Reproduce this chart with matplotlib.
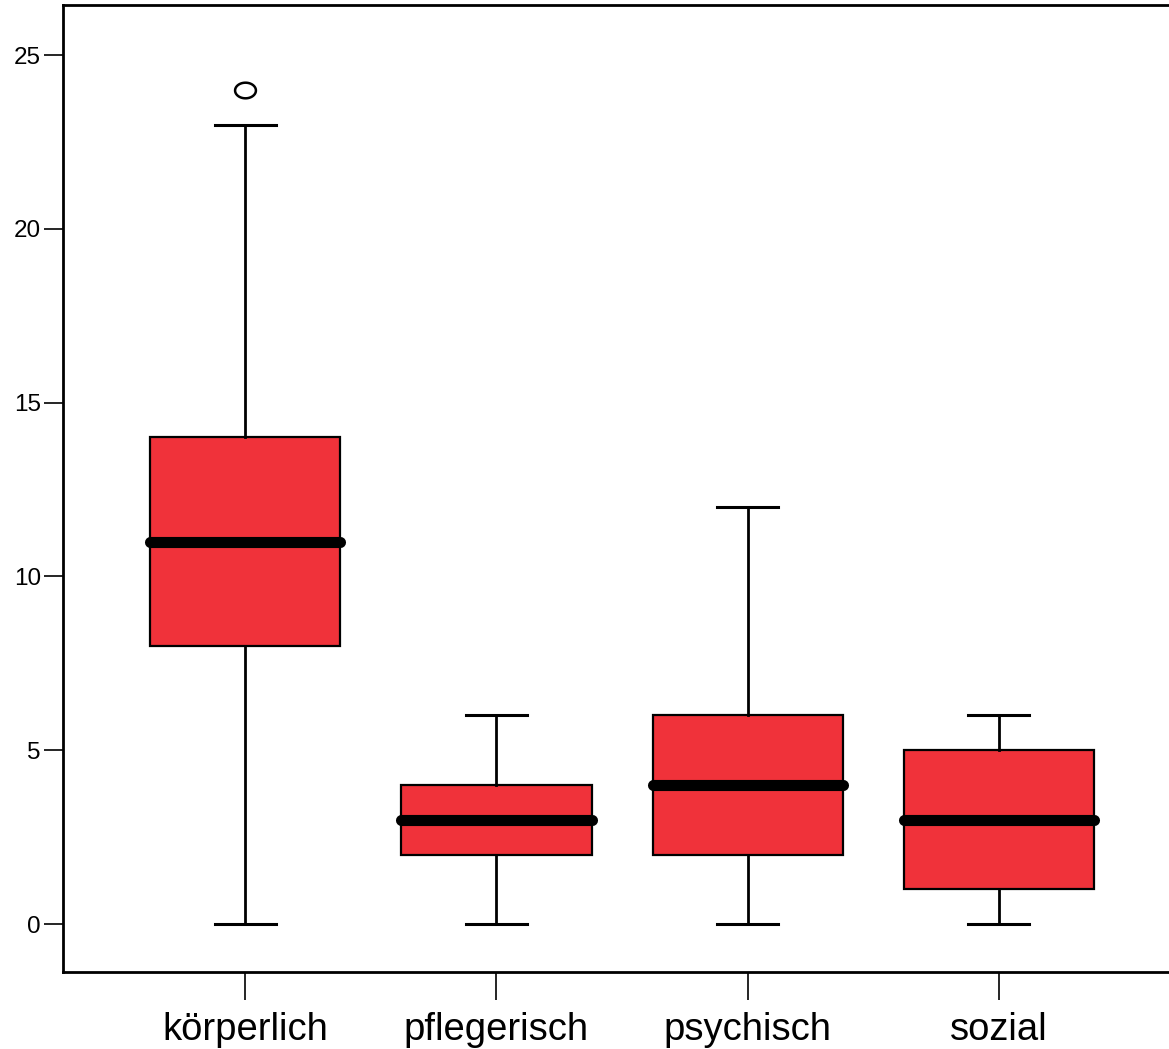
import numpy as np
import matplotlib
matplotlib.use("Agg")
import matplotlib.pyplot as plt
from matplotlib.path import Path

plt.rcParams['font.family'] = ['Liberation Sans', 'DejaVu Sans']

categories = ["körperlich", "pflegerisch", "psychisch", "sozial"]
whisker_low = [0, 0, 0, 0]
q1 = [8, 2, 2, 1]
median = [11, 3, 4, 3]
q3 = [14, 4, 6, 5]
whisker_high = [23, 6, 12, 6]
outliers = [[24], [], [], []]
y_ticks = [0, 5, 10, 15, 20, 25]

stats = []
for i, name in enumerate(categories):
    stats.append(dict(label=name, whislo=whisker_low[i], q1=q1[i], med=median[i],
                      q3=q3[i], whishi=whisker_high[i], fliers=outliers[i]))

fig = plt.figure(figsize=(11.69, 10.49), dpi=100)
ax = fig.add_axes([63 / 1169, 77 / 1049, 1 - 63 / 1169, 967 / 1049])

# slightly flattened open circle for outliers
t = np.linspace(0, 2 * np.pi, 60)
ellipse = Path(np.column_stack([np.cos(t), 0.75 * np.sin(t)]), closed=True)

positions = np.arange(1, len(categories) + 1)
ax.bxp(stats, positions=positions, widths=0.757, capwidths=0.243,
       patch_artist=True, showfliers=True,
       boxprops=dict(facecolor="#F0323A", edgecolor="black", linewidth=1.6),
       whiskerprops=dict(color="black", linewidth=2.0),
       capprops=dict(color="black", linewidth=2.2),
       medianprops=dict(color="black", linewidth=8.0, solid_capstyle="round"),
       flierprops=dict(marker=ellipse, markersize=15, markerfacecolor="none",
                       markeredgecolor="black", markeredgewidth=1.8))

ax.set_xlim(0.275, 4.677)
ax.set_ylim(-1.38, 26.44)
ax.set_yticks(y_ticks)
ax.set_yticklabels([str(v) for v in y_ticks])
ax.set_xticks(positions)
ax.set_xticklabels(categories)

ax.spines["right"].set_visible(False)
for s in ["left", "top", "bottom"]:
    ax.spines[s].set_linewidth(2.0)

ax.tick_params(axis="y", length=14, width=1.2, labelsize=17.5, pad=2)
ax.tick_params(axis="x", length=20, width=1.2, labelsize=27.5, pad=9)

fig.savefig("out.png", dpi=100)
